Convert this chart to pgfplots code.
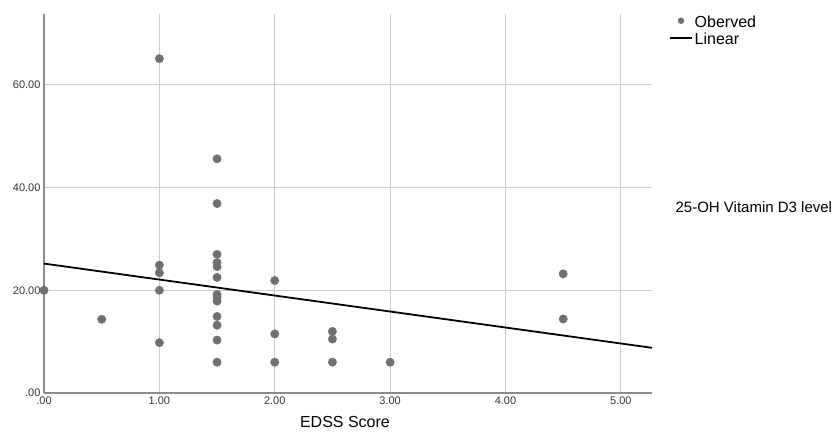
\documentclass[border=0pt]{standalone}
\usepackage{fontspec}
\setmainfont{Liberation Sans}
\usepackage{pgfplots}
\pgfplotsset{compat=1.18}

\definecolor{dotgray}{HTML}{707070}
\definecolor{gridgray}{HTML}{CCCCCC}
\definecolor{axgray}{HTML}{8C8C8C}

\begin{document}
\begin{tikzpicture}
\useasboundingbox (-44pt,-42pt) rectangle (794pt,393pt);
\begin{axis}[
    at={(0pt,0pt)}, anchor=origin,
    scale only axis,
    width=608pt, height=379pt,
    xmin=0, xmax=5.27,
    ymin=0, ymax=73.8,
    xtick={0,1,2,3,4,5},
    ytick={0,20,40,60},
    xticklabels={.00,1.00,2.00,3.00,4.00,5.00},
    yticklabels={.00,20.00,40.00,60.00},
    major tick length=0pt,
    tick label style={font=\fontsize{11}{12}\selectfont, text=black!80},
    /pgf/number format/assume math mode=true,
    axis x line*=bottom, axis y line*=left,
    axis line style={-, axgray, line width=1.1pt},
    grid=major,
    grid style={gridgray, line width=0.8pt},
    xlabel={EDSS Score},
    xlabel style={font=\fontsize{16}{18}\selectfont, at={(axis description cs:0.495,0)}, anchor=north, yshift=-20pt},
    clip mode=individual,
    legend style={at={(1.028,1.0)}, anchor=north west, draw=none, fill=none,
        font=\fontsize{16}{17}\selectfont, inner sep=0pt, row sep=0pt,
        cells={anchor=west}},
    legend cell align=left,
]
\addplot[only marks, mark=*, mark size=4.2pt, mark options={draw=dotgray, fill=dotgray},
    legend image code/.code={\fill[dotgray] (11pt,2pt) circle (3pt);}] coordinates {
    (0,20.0) (0.5,14.35)
    (1,65.1) (1,24.9) (1,23.4) (1,20.0) (1,9.8)
    (1.5,45.6) (1.5,36.9) (1.5,27.0) (1.5,25.4) (1.5,24.6) (1.5,22.5)
    (1.5,19.2) (1.5,18.6) (1.5,17.9) (1.5,14.9) (1.5,13.2) (1.5,10.3) (1.5,6.0)
    (2,21.9) (2,11.5) (2,6.0)
    (2.5,12.0) (2.5,10.5) (2.5,6.0)
    (3,6.0)
    (4.5,23.2) (4.5,14.4)
};
\addlegendentry{Oberved}
\addplot[black, line width=1.8pt,
    legend image code/.code={\draw[black, line width=1.5pt] (0pt,2pt) -- (22pt,2pt);}]
    coordinates {(0,25.2) (5.27,8.8)};
\addlegendentry{Linear}
\node[anchor=west, font=\fontsize{15}{17}\selectfont] at (rel axis cs:1.033,0.491) {25-OH Vitamin D3 level};
\end{axis}
\end{tikzpicture}
\end{document}
